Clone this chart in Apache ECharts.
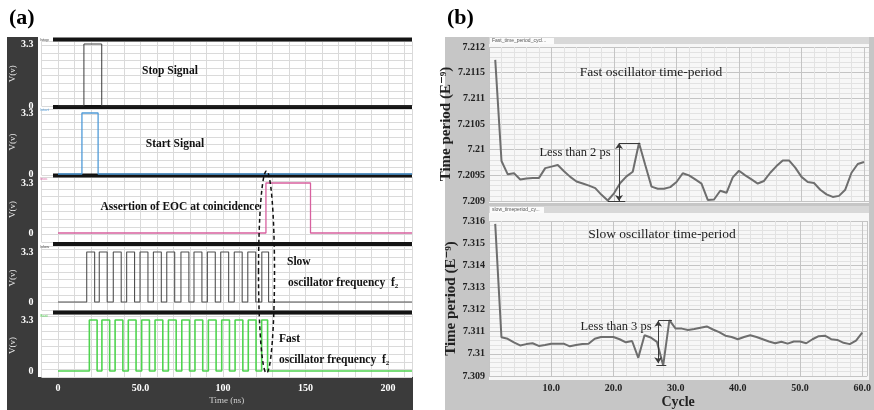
<!DOCTYPE html>
<html><head><meta charset="utf-8">
<script src="https://cdn.jsdelivr.net/npm/echarts@6/dist/echarts.min.js"></script>
<style>html,body{margin:0;padding:0;background:#fff}#c{width:874px;height:410px}</style>
</head><body><div id="c"></div>
<script>
// ---------- DATA ----------
// (a) time-domain signals, pulses as [rise, fall] in ns
const timeTicks = [0, 50, 100, 150, 200];
const timeTickLabels = ['0', '50.0', '100', '150', '200'];
const signalNames = ['Stop Signal', 'Start Signal', 'Assertion of EOC at coincidence', 'Slow oscillator frequency f2', 'Fast oscillator frequency f2'];
const stopPulses = [[15.7, 26.5]];
const startPulses = [[14.5, 24.3]];
const eocPulses = [[126.0, 153.0]];
const slowRise = [17.4, 25.0, 33.5, 41.6, 49.7, 57.8, 65.9, 74.5, 82.4, 90.5, 98.6, 106.8, 115.0, 123.5];
const slowFall = [22.2, 29.8, 38.3, 46.4, 54.5, 62.6, 70.7, 79.3, 87.2, 95.3, 103.4, 111.6, 119.8, 127.6];
const fastRise = [19.0, 26.6, 34.6, 42.6, 50.7, 58.8, 66.9, 75.0, 83.0, 91.1, 99.2, 107.3, 115.3, 123.4];
const fastFall = [23.7, 31.3, 39.3, 47.3, 55.4, 63.5, 71.6, 79.7, 87.7, 95.8, 103.9, 112.0, 120.0, 127.0];
const signalStart = 0, signalEnd = 214.5;
const voltLevels = [0, 3.3];

// (b) time period per cycle (ns)
const cycles = [1,2,3,4,5,6,7,8,9,10,11,12,13,14,15,16,17,18,19,20,21,22,23,24,25,26,27,28,29,30,31,32,33,34,35,36,37,38,39,40,41,42,43,44,45,46,47,48,49,50,51,52,53,54,55,56,57,58,59,60];
const fastPeriod = [7.21175,7.20978,7.20952,7.20954,7.20942,7.20944,7.20945,7.20945,7.20964,7.20967,
  7.20970,7.20958,7.20947,7.20938,7.20934,7.20930,7.20925,7.20912,7.20901,7.20915,
  7.20935,7.20948,7.20957,7.21013,7.20970,7.20928,7.20924,7.20924,7.20927,7.20937,
  7.20954,7.20950,7.20942,7.20934,7.20902,7.20903,7.20920,7.20916,7.20946,7.20959,
  7.20950,7.20942,7.20934,7.20939,7.20955,7.20968,7.20979,7.20979,7.20965,7.20947,
  7.20937,7.20935,7.20922,7.20913,7.20908,7.20910,7.20922,7.20955,7.20972,7.20976];
const slowPeriod = [7.31587,7.31075,7.31068,7.31052,7.31038,7.31044,7.31048,7.31036,7.31040,7.31046,
  7.31046,7.31046,7.31034,7.31040,7.31044,7.31046,7.31068,7.31076,7.31076,7.31076,
  7.31066,7.31052,7.31058,7.30982,7.31084,7.31074,7.31054,7.30948,7.31152,7.31114,
  7.31114,7.31108,7.31112,7.31118,7.31124,7.31110,7.31098,7.31082,7.31076,7.31066,
  7.31076,7.31084,7.31076,7.31066,7.31056,7.31048,7.31055,7.31046,7.31056,7.31056,
  7.31048,7.31066,7.31080,7.31082,7.31066,7.31063,7.31050,7.31044,7.31060,7.31096];
const cycleTicks = [10, 20, 30, 40, 50, 60];
// annotation brackets (data coords): [x1,y1,x2,y2,arrows]
const fastBracket = [[20.8,7.21013,20.8,7.20900,1],[20.8,7.21013,24.2,7.21013,0],[19.0,7.20900,21.8,7.20900,0]];
const slowBracket = [[27.2,7.31149,27.2,7.30958,1],[27.2,7.31152,29.4,7.31152,0],[26.9,7.30948,28.5,7.30948,0]];

// ---------- LAYOUT ----------
const serif = '"Liberation Serif","DejaVu Serif",serif';
const rows = [
  {y33:44,  y0:106, top:41.5, bottom:106},
  {y33:113, y0:174, top:109,  bottom:175},
  {y33:183, y0:233, top:177,  bottom:242},
  {y33:252, y0:302, top:246,  bottom:310},
  {y33:320, y0:371, top:314,  bottom:377}
];
const barsY = [39.5, 107, 175.5, 244, 312.5];
const sigColors = ['#3a3a3a', '#4f9ad8', '#d8609f', '#505050', '#4fd44f'];
const sigWidths = [1, 1.3, 1.3, 1.1, 1.6];

function toPulses(r, f) { return r.map((v, i) => [v, f[i]]); }
const allPulses = [stopPulses, startPulses, eocPulses, toPulses(slowRise, slowFall), toPulses(fastRise, fastFall)];
function pulseLine(pulses) {
  const pts = [[signalStart, 0]];
  pulses.forEach(p => { pts.push([p[0], 0], [p[0], 3.3], [p[1], 3.3], [p[1], 0]); });
  pts.push([signalEnd, 0]);
  return pts;
}

const grid = [], xAxis = [], yAxis = [], series = [];
rows.forEach((r, i) => {
  const ppv = (r.y0 - r.y33) / 3.3;
  grid.push({left: 41.5, right: 462, top: r.top, height: r.bottom - r.top});
  xAxis.push({
    gridIndex: i, type: 'value', min: -10, max: 214.5, interval: 10,
    axisLine: {show: false}, axisTick: {show: false},
    splitLine: {show: true, lineStyle: {color: '#dadada', width: 1}},
    axisLabel: i === 4 ? {
      customValues: timeTicks, formatter: v => timeTickLabels[timeTicks.indexOf(v)],
      color: '#fff', fontWeight: 'bold', fontFamily: serif, fontSize: 10, margin: 6
    } : {show: false},
    name: i === 4 ? 'Time (ns)' : '', nameLocation: 'middle', nameGap: 19,
    nameTextStyle: {color: '#cfcfcf', fontFamily: serif, fontSize: 9}
  });
  yAxis.push({
    gridIndex: i, type: 'value',
    min: -(r.bottom - r.y0) / ppv, max: 3.3 + (r.y33 - r.top) / ppv, interval: 7.6 / ppv,
    axisLine: {show: false}, axisTick: {show: false},
    splitLine: {show: true, lineStyle: {color: '#dadada', width: 1}},
    axisLabel: {customValues: voltLevels, formatter: v => (v === 0 ? '0' : '3.3'),
      color: '#fff', fontWeight: 'bold', fontFamily: serif, fontSize: 10, margin: 8},
    name: 'V(v)', nameLocation: 'middle', nameGap: 20, nameRotate: 90,
    nameTextStyle: {color: '#e8e8e8', fontFamily: serif, fontSize: 9}
  });
  series.push({
    type: 'line', xAxisIndex: i, yAxisIndex: i, data: pulseLine(allPulses[i]),
    symbol: 'none', lineStyle: {color: sigColors[i], width: sigWidths[i]}, z: 3, silent: true
  });
});

function bracketLines(b) {
  return b.map(s => [
    {coord: [s[0], s[1]], symbol: s[4] ? 'arrow' : 'none', symbolSize: 6},
    {coord: [s[2], s[3]], symbol: s[4] ? 'arrow' : 'none', symbolSize: 6}
  ]);
}
const rightPlots = [
  {top: 47, height: 154, min: 7.209, max: 7.212, interval: 0.0005, data: fastPeriod, br: fastBracket, showX: false},
  {top: 221, height: 156, min: 7.309, max: 7.316, interval: 0.001, data: slowPeriod, br: slowBracket, showX: true}
];
rightPlots.forEach((p, k) => {
  const gi = 5 + k;
  grid.push({left: 489, right: 5, top: p.top, height: p.height});
  xAxis.push({
    gridIndex: gi, type: 'value', min: 0, max: 60.8, interval: 10,
    axisLine: {show: false}, axisTick: {show: false},
    splitLine: {show: true, lineStyle: {color: '#c4c4c4', width: 1}},
    minorTick: {show: true, splitNumber: 5, length: 0},
    minorSplitLine: {show: true, lineStyle: {color: '#e2e2e2', width: 1}},
    axisLabel: p.showX ? {customValues: cycleTicks, formatter: v => v.toFixed(1),
      color: '#222', fontWeight: 'bold', fontFamily: serif, fontSize: 10, margin: 7} : {show: false},
    name: p.showX ? 'Cycle' : '', nameLocation: 'middle', nameGap: 19,
    nameTextStyle: {color: '#222', fontWeight: 'bold', fontFamily: serif, fontSize: 14}
  });
  yAxis.push({
    gridIndex: gi, type: 'value', min: p.min, max: p.max, interval: p.interval,
    axisLine: {show: false}, axisTick: {show: false},
    splitLine: {show: true, lineStyle: {color: '#c4c4c4', width: 1}},
    minorTick: {show: true, splitNumber: 5, length: 0},
    minorSplitLine: {show: true, lineStyle: {color: '#e2e2e2', width: 1}},
    axisLabel: {color: '#222', fontWeight: 'bold', fontFamily: serif, fontSize: 10, margin: 4},
    name: 'Time period (E\u207B\u2079)', nameLocation: 'middle', nameGap: 25, nameRotate: 90,
    nameTextStyle: {color: '#222', fontWeight: 'bold', fontFamily: serif, fontSize: 15}
  });
  series.push({
    type: 'line', xAxisIndex: gi, yAxisIndex: gi, data: cycles.map((c, j) => [c, p.data[j]]),
    symbol: 'none', lineStyle: {color: '#6e6e6e', width: 2}, z: 3, silent: true,
    markLine: {silent: true, animation: false, label: {show: false},
      lineStyle: {color: '#3a3a3a', width: 1, type: 'solid'}, emphasis: {disabled: true},
      data: bracketLines(p.br)}
  });
});

// ---------- DECORATION ----------
const g = [];
function rect(x, y, w, h, fill, z) { g.push({type: 'rect', shape: {x, y, width: w, height: h}, style: {fill}, z: z, silent: true}); }
function text(t, x, y, font, fill, align, z) {
  g.push({type: 'text', x: x, y: y, style: {text: t, font: font, fill: fill, textAlign: align || 'left', textVerticalAlign: 'middle'}, z: z || 20, silent: true});
}
// panel (a) frame
rect(7, 37, 31, 341, '#3b3b3b', -5);
rect(7, 377, 406, 33, '#3b3b3b', -5);
barsY.forEach((y, i) => rect(53, y - 2, 359, 4, '#141414', 1));
const tinyTags = ['/stop', '/start', '/eoc', '/slow', '/fast'];
barsY.forEach((y, i) => text(tinyTags[i], 40, y + (i === 0 ? 0 : 3), '4px sans-serif', sigColors[i], 'left', 20));
// panel (b) frame
rect(445, 37, 429, 373, '#c6c6c6', -6);
rect(489, 44, 380, 159, '#f7f7f7', -5);
rect(489, 213, 380, 167, '#f7f7f7', -5);
rect(489, 37, 380, 7, '#d8d8d8', -5);
rect(490, 38, 64, 6, '#fbfbfb', -4);
rect(489, 206, 380, 7, '#d8d8d8', -5);
rect(490, 207, 54, 6, '#fbfbfb', -4);
text('Fast_time_period_cycl...', 492, 41, '5px sans-serif', '#555', 'left', 20);
text('slow_timeperiod_cy...', 492, 210, '5px sans-serif', '#555', 'left', 20);
// titles
text('(a)', 9, 18, 'bold 22px ' + serif, '#000', 'left');
text('(b)', 447, 18, 'bold 22px ' + serif, '#000', 'left');
// panel (a) labels
const lf = 'bold 11.5px ' + serif;
text(signalNames[0], 170, 71, lf, '#111', 'center');
text(signalNames[1], 175, 144, lf, '#111', 'center');
text(signalNames[2], 180, 207, lf, '#111', 'center');
text('Slow', 287, 262, lf, '#111', 'left');
text('oscillator frequency  f\u2082', 288, 283, lf, '#111', 'left');
text('Fast', 279, 339, lf, '#111', 'left');
text('oscillator frequency  f\u2082', 279, 360, lf, '#111', 'left');
// dashed ellipse around coincidence
g.push({type: 'ellipse', shape: {cx: 266.5, cy: 272, rx: 8, ry: 101},
  style: {fill: 'none', stroke: '#111', lineWidth: 1.5, lineDash: [4, 3]}, z: 15, silent: true});
// panel (b) labels
text('Fast oscillator time-period', 651, 72, '13.5px ' + serif, '#222', 'center');
text('Less than 2 ps', 575, 153, '12.5px ' + serif, '#222', 'center');
text('Slow oscillator time-period', 662, 234, '13.5px ' + serif, '#222', 'center');
text('Less than 3 ps', 616, 327, '12.5px ' + serif, '#222', 'center');

const chart = echarts.init(document.getElementById('c'));
chart.setOption({
  animation: false, backgroundColor: '#fff',
  grid, xAxis, yAxis, series, graphic: {elements: g}
});
</script></body></html>
